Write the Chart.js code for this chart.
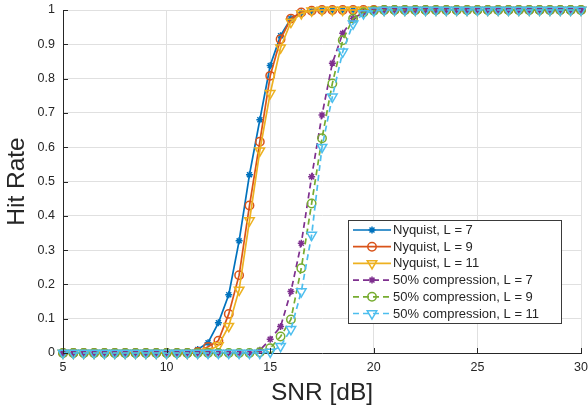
<!DOCTYPE html>
<html>
<head>
<meta charset="utf-8">
<script src="https://cdn.jsdelivr.net/npm/chart.js@4.4.1/dist/chart.umd.min.js"></script>
<style>
  html, body { margin: 0; padding: 0; background: #fff; }
</style>
</head>
<body>
<canvas id="chart" width="588" height="409"></canvas>
<script>
// SNR grid (dB)
const snr = [5, 5.5, 6, 6.5, 7, 7.5, 8, 8.5, 9, 9.5, 10, 10.5, 11, 11.5, 12, 12.5, 13, 13.5,
  14, 14.5, 15, 15.5, 16, 16.5, 17, 17.5, 18, 18.5, 19, 19.5, 20, 20.5, 21, 21.5, 22, 22.5,
  23, 23.5, 24, 24.5, 25, 25.5, 26, 26.5, 27, 27.5, 28, 28.5, 29, 29.5, 30];

// Hit rate per series
const nyq7 = [0, 0, 0, 0, 0, 0, 0, 0, 0, 0, 0, 0,
  0.001, 0.01, 0.03, 0.088, 0.17, 0.327, 0.52, 0.68, 0.838, 0.925, 0.975, 0.992, 0.998,
  1, 1, 1, 1, 1, 1, 1, 1, 1, 1, 1, 1, 1, 1, 1, 1, 1, 1, 1, 1, 1, 1, 1, 1, 1, 1];
const nyq9 = [0, 0, 0, 0, 0, 0, 0, 0, 0, 0, 0, 0,
  0, 0.003, 0.018, 0.036, 0.114, 0.227, 0.43, 0.616, 0.808, 0.915, 0.975, 0.993, 0.998,
  1, 1, 1, 1, 1, 1, 1, 1, 1, 1, 1, 1, 1, 1, 1, 1, 1, 1, 1, 1, 1, 1, 1, 1, 1, 1];
const nyq11 = [0, 0, 0, 0, 0, 0, 0, 0, 0, 0, 0, 0,
  0, 0.001, 0.005, 0.022, 0.078, 0.184, 0.386, 0.59, 0.757, 0.89, 0.965, 0.99, 0.998,
  1, 1, 1, 1, 1, 1, 1, 1, 1, 1, 1, 1, 1, 1, 1, 1, 1, 1, 1, 1, 1, 1, 1, 1, 1, 1];
const comp7 = [0, 0, 0, 0, 0, 0, 0, 0, 0, 0, 0, 0, 0, 0, 0, 0, 0, 0,
  0.001, 0.008, 0.04, 0.077, 0.179, 0.32, 0.514, 0.694, 0.845, 0.932, 0.975, 0.993, 0.998,
  1, 1, 1, 1, 1, 1, 1, 1, 1, 1, 1, 1, 1, 1, 1, 1, 1, 1, 1, 1];
const comp9 = [0, 0, 0, 0, 0, 0, 0, 0, 0, 0, 0, 0, 0, 0, 0, 0, 0, 0,
  0, 0.002, 0.014, 0.048, 0.098, 0.247, 0.436, 0.626, 0.786, 0.912, 0.975, 0.993, 0.998,
  1, 1, 1, 1, 1, 1, 1, 1, 1, 1, 1, 1, 1, 1, 1, 1, 1, 1, 1, 1];
const comp11 = [0, 0, 0, 0, 0, 0, 0, 0, 0, 0, 0, 0, 0, 0, 0, 0, 0, 0,
  0, 0, 0.003, 0.02, 0.069, 0.179, 0.344, 0.6, 0.747, 0.878, 0.96, 0.99, 0.998,
  1, 1, 1, 1, 1, 1, 1, 1, 1, 1, 1, 1, 1, 1, 1, 1, 1, 1, 1, 1];

const seriesNames = ['Nyquist, L = 7', 'Nyquist, L = 9', 'Nyquist, L = 11',
  '50% compression, L = 7', '50% compression, L = 9', '50% compression, L = 11'];
const seriesValues = [nyq7, nyq9, nyq11, comp7, comp9, comp11];

const colors = ['#0072BD', '#D95319', '#EDB120', '#7E2F8E', '#77AC30', '#4DBEEE'];
const markers = [
  { pointStyle: 'star', radius: 3.5, rotation: 0 },
  { pointStyle: 'circle', radius: 4.2, rotation: 0 },
  { pointStyle: 'triangle', radius: 5.5, rotation: 180 },
  { pointStyle: 'star', radius: 3.5, rotation: 0 },
  { pointStyle: 'circle', radius: 4.2, rotation: 0 },
  { pointStyle: 'triangle', radius: 5.5, rotation: 180 }
];
const AXIS = '#262626';
const FONT = '"Liberation Sans", Arial, Helvetica, sans-serif';

const datasets = seriesValues.map((vals, i) => ({
  label: seriesNames[i],
  data: vals.map((v, k) => ({ x: snr[k], y: v })),
  borderColor: colors[i],
  backgroundColor: 'rgba(0,0,0,0)',
  borderWidth: 1.7,
  borderDash: i >= 3 ? [6, 4] : [],
  pointStyle: markers[i].pointStyle,
  pointRadius: markers[i].radius,
  pointRotation: markers[i].rotation,
  pointBorderColor: colors[i],
  pointBackgroundColor: 'rgba(0,0,0,0)',
  pointBorderWidth: 1.5,
  tension: 0,
  clip: false,
  order: 5 - i
}));

// MATLAB style inward tick marks
const inwardTicks = {
  id: 'inwardTicks',
  afterDatasetsDraw(chart) {
    const { ctx, chartArea, scales } = chart;
    ctx.save();
    ctx.strokeStyle = AXIS;
    ctx.lineWidth = 1;
    ctx.beginPath();
    scales.y.ticks.forEach(t => {
      const y = Math.round(scales.y.getPixelForValue(t.value)) + 0.5;
      ctx.moveTo(chartArea.left, y);
      ctx.lineTo(chartArea.left + 5, y);
    });
    scales.x.ticks.forEach(t => {
      const x = Math.round(scales.x.getPixelForValue(t.value)) + 0.5;
      ctx.moveTo(x, chartArea.bottom);
      ctx.lineTo(x, chartArea.bottom - 5);
    });
    ctx.stroke();
    ctx.restore();
  }
};

// Legend box inside the plot, lower right
const boxLegend = {
  id: 'boxLegend',
  afterDraw(chart) {
    const { ctx, chartArea } = chart;
    const w = 213, h = 103;
    const left = chartArea.right - 20 - w;
    const top = chartArea.bottom - 30 - h;
    ctx.save();
    ctx.fillStyle = '#fff';
    ctx.fillRect(left, top, w, h);
    ctx.strokeStyle = '#3a3a3a';
    ctx.lineWidth = 1;
    ctx.strokeRect(Math.round(left) + 0.5, Math.round(top) + 0.5, w, h);
    ctx.font = '13px ' + FONT;
    ctx.textBaseline = 'middle';
    chart.data.datasets.forEach((ds, i) => {
      const y = top + 10 + i * 16.7;
      const x0 = left + 5;
      ctx.strokeStyle = ds.borderColor;
      ctx.lineWidth = 1.7;
      ctx.setLineDash(ds.borderDash);
      ctx.beginPath();
      ctx.moveTo(x0, y);
      ctx.lineTo(x0 + 38, y);
      ctx.stroke();
      ctx.setLineDash([]);
      ctx.fillStyle = 'rgba(0,0,0,0)';
      ctx.lineWidth = 1.5;
      Chart.helpers.drawPoint(ctx, {
        pointStyle: ds.pointStyle,
        radius: ds.pointRadius,
        rotation: ds.pointRotation,
        borderWidth: 1.5
      }, x0 + 19, y);
      ctx.fillStyle = AXIS;
      ctx.fillText(ds.label, x0 + 40, y + 0.5);
    });
    ctx.restore();
  }
};

new Chart(document.getElementById('chart'), {
  type: 'line',
  data: { datasets },
  plugins: [inwardTicks, boxLegend],
  options: {
    responsive: false,
    animation: false,
    layout: { padding: { top: 10, right: 5, left: 0, bottom: 0 } },
    scales: {
      x: {
        type: 'linear',
        min: 5,
        max: 30,
        ticks: {
          stepSize: 5,
          color: AXIS,
          padding: 7,
          maxRotation: 0,
          font: { family: FONT, size: 12.5 }
        },
        grid: { color: '#e0e0e0', drawTicks: false },
        border: { display: true, color: AXIS, width: 1 },
        title: {
          display: true,
          text: 'SNR [dB]',
          color: AXIS,
          font: { family: FONT, size: 24.5 },
          padding: { top: 0, bottom: 1.5 }
        },
        afterFit: s => { s.height = 56; s.paddingLeft = 0; s.paddingRight = 0; }
      },
      y: {
        min: 0,
        max: 1,
        ticks: {
          stepSize: 0.1,
          color: AXIS,
          padding: 8,
          font: { family: FONT, size: 12.5 },
          callback: v => String(+v.toFixed(1))
        },
        grid: { color: '#e0e0e0', drawTicks: false },
        border: { display: true, color: AXIS, width: 1 },
        title: {
          display: true,
          text: 'Hit Rate',
          color: AXIS,
          font: { family: FONT, size: 24.5 },
          padding: { top: 2.3, bottom: 0 }
        },
        afterFit: s => { s.width = 63; s.paddingTop = 0; s.paddingBottom = 0; }
      }
    },
    plugins: {
      legend: { display: false },
      tooltip: { enabled: false }
    }
  }
});
</script>
</body>
</html>
